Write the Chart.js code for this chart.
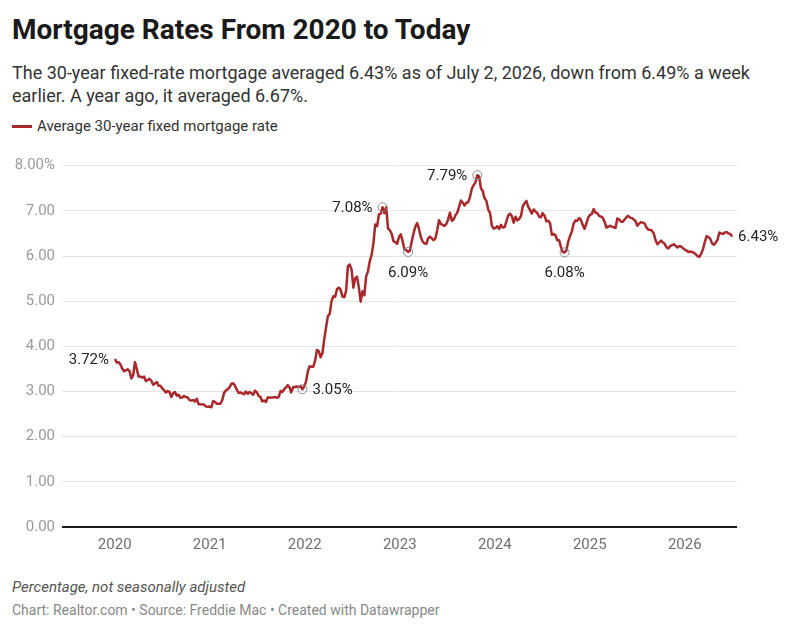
<!DOCTYPE html>
<html>
<head>
<meta charset="utf-8">
<script src="https://cdn.jsdelivr.net/npm/chart.js@4"></script>
<style>
  html, body { margin: 0; padding: 0; background: #fff; }
  body { width: 792px; height: 632px; position: relative; overflow: hidden; font-family: Roboto, sans-serif; }
  .abs { position: absolute; left: 12px; white-space: nowrap; }
  #title { top: 12px; font-size: 28px; line-height: 36px; font-weight: 700; color: #1a1a1a; }
  #subtitle { top: 61px; font-size: 18px; line-height: 23px; color: #333; white-space: normal; width: 770px; }
  #legend { top: 116px; font-size: 15px; line-height: 20px; color: #333; }
  #legend i { display: inline-block; width: 20px; height: 3px; background: #a8282b; vertical-align: middle; margin: -2px 5px 0 0; }
  #chart-box { position: absolute; left: 0; top: 140px; width: 792px; height: 430px; }
  #note { top: 577px; font-size: 15px; line-height: 20px; font-style: italic; color: #555; }
  #credit { top: 601px; font-size: 14px; line-height: 18px; color: #888; }
</style>
</head>
<body>
<div id="title" class="abs">Mortgage Rates From 2020 to Today</div>
<div id="subtitle" class="abs">The 30-year fixed-rate mortgage averaged 6.43% as of July 2, 2026, down from 6.49% a week earlier. A year ago, it averaged 6.67%.</div>
<div id="legend" class="abs"><i></i>Average 30-year fixed mortgage rate</div>
<div id="chart-box"><canvas id="rates-chart" width="792" height="430"></canvas></div>
<div id="note" class="abs">Percentage, not seasonally adjusted</div>
<div id="credit" class="abs">Chart: Realtor.com • Source: Freddie Mac • Created with Datawrapper</div>

<script>
// weekly survey dates (MM-DD) and 30-year fixed rates, one pair per year
var weeks2020 = ["01-02","01-09","01-16","01-23","01-30","02-06","02-13","02-20","02-27","03-05","03-12","03-19","03-26",
  "04-02","04-09","04-16","04-23","04-30","05-07","05-14","05-21","05-28","06-04","06-11","06-18","06-25",
  "07-02","07-09","07-16","07-23","07-30","08-06","08-13","08-20","08-27","09-03","09-10","09-17","09-24",
  "10-01","10-08","10-15","10-22","10-29","11-05","11-12","11-19","11-25","12-03","12-10","12-17","12-23","12-30"];
var rates2020 = [3.72,3.64,3.65,3.60,3.51,3.45,3.47,3.49,3.45,3.29,3.36,3.65,3.50,
  3.33,3.33,3.31,3.33,3.23,3.26,3.28,3.24,3.15,3.18,3.21,3.13,3.13,
  3.07,3.03,2.98,3.01,2.99,2.88,2.96,2.99,2.91,2.93,2.86,2.87,2.90,
  2.88,2.87,2.81,2.80,2.81,2.78,2.84,2.72,2.72,2.71,2.71,2.67,2.66,2.67];

var weeks2021 = ["01-07","01-14","01-21","01-28","02-04","02-11","02-18","02-25","03-04","03-11","03-18","03-25",
  "04-01","04-08","04-15","04-22","04-29","05-06","05-13","05-20","05-27","06-03","06-10","06-17","06-24",
  "07-01","07-08","07-15","07-22","07-29","08-05","08-12","08-19","08-26","09-02","09-09","09-16","09-23","09-30",
  "10-07","10-14","10-21","10-28","11-04","11-10","11-18","11-24","12-02","12-09","12-16","12-23","12-30"];
var rates2021 = [2.65,2.79,2.77,2.73,2.73,2.73,2.81,2.97,3.02,3.05,3.09,3.17,
  3.18,3.13,3.04,2.97,2.98,2.96,2.94,3.00,2.95,2.99,2.96,2.93,3.02,
  2.98,2.90,2.88,2.78,2.80,2.77,2.87,2.86,2.87,2.87,2.88,2.86,2.88,3.01,
  2.99,3.05,3.09,3.14,3.09,2.98,3.10,3.10,3.11,3.10,3.12,3.05,3.11];

var weeks2022 = ["01-06","01-13","01-20","01-27","02-03","02-10","02-17","02-24","03-03","03-10","03-17","03-24","03-31",
  "04-07","04-14","04-21","04-28","05-05","05-12","05-19","05-26","06-02","06-09","06-16","06-23","06-30",
  "07-07","07-14","07-21","07-28","08-04","08-11","08-18","08-25","09-01","09-08","09-15","09-22","09-29",
  "10-06","10-13","10-20","10-27","11-03","11-10","11-17","11-23","12-01","12-08","12-15","12-22","12-29"];
var rates2022 = [3.22,3.45,3.56,3.55,3.55,3.69,3.92,3.89,3.76,3.85,4.16,4.42,4.67,
  4.72,5.00,5.11,5.10,5.27,5.30,5.25,5.10,5.09,5.23,5.78,5.81,5.70,
  5.30,5.51,5.54,5.30,4.99,5.22,5.13,5.55,5.66,5.89,6.02,6.29,6.70,
  6.66,6.92,6.94,7.08,6.95,7.08,6.61,6.58,6.49,6.33,6.31,6.27,6.42];

var weeks2023 = ["01-05","01-12","01-19","01-26","02-02","02-09","02-16","02-23","03-02","03-09","03-16","03-23","03-30",
  "04-06","04-13","04-20","04-27","05-04","05-11","05-18","05-25","06-01","06-08","06-15","06-22","06-29",
  "07-06","07-13","07-20","07-27","08-03","08-10","08-17","08-24","08-31","09-07","09-14","09-21","09-28",
  "10-05","10-12","10-19","10-26","11-02","11-09","11-16","11-22","11-30","12-07","12-14","12-21","12-28"];
var rates2023 = [6.48,6.33,6.15,6.13,6.09,6.12,6.32,6.50,6.65,6.73,6.60,6.42,6.32,
  6.28,6.27,6.39,6.43,6.39,6.35,6.39,6.57,6.79,6.71,6.69,6.67,6.71,
  6.81,6.96,6.78,6.81,6.90,6.96,7.09,7.23,7.18,7.12,7.18,7.19,7.31,
  7.49,7.57,7.63,7.79,7.76,7.50,7.44,7.29,7.22,7.03,6.95,6.67,6.61];

var weeks2024 = ["01-04","01-11","01-18","01-25","02-01","02-08","02-15","02-22","02-29","03-07","03-14","03-21","03-28",
  "04-04","04-11","04-18","04-25","05-02","05-09","05-16","05-23","05-30","06-06","06-13","06-20","06-27",
  "07-03","07-11","07-18","07-25","08-01","08-08","08-15","08-22","08-29","09-05","09-12","09-19","09-26",
  "10-03","10-10","10-17","10-24","10-31","11-07","11-14","11-21","11-27","12-05","12-12","12-19","12-26"];
var rates2024 = [6.62,6.66,6.60,6.69,6.63,6.64,6.77,6.90,6.94,6.88,6.74,6.87,6.79,
  6.82,6.88,7.10,7.17,7.22,7.09,7.02,6.94,7.03,6.99,6.95,6.87,6.86,
  6.95,6.89,6.77,6.78,6.73,6.47,6.49,6.46,6.35,6.35,6.20,6.09,6.08,
  6.12,6.32,6.44,6.54,6.72,6.79,6.78,6.84,6.81,6.69,6.60,6.72,6.85];

var weeks2025 = ["01-02","01-09","01-16","01-23","01-30","02-06","02-13","02-20","02-27","03-06","03-13","03-20","03-27",
  "04-03","04-10","04-17","04-24","05-01","05-08","05-15","05-22","05-29","06-05","06-12","06-19","06-26",
  "07-03","07-10","07-17","07-24","07-31","08-07","08-14","08-21","08-28","09-04","09-11","09-18","09-25",
  "10-02","10-09","10-16","10-23","10-30","11-06","11-13","11-20","11-26","12-04","12-11","12-18","12-24","12-31"];
var rates2025 = [6.91,6.93,7.04,6.96,6.95,6.89,6.87,6.85,6.76,6.63,6.65,6.67,6.65,
  6.64,6.62,6.83,6.81,6.76,6.76,6.81,6.86,6.89,6.85,6.84,6.81,6.77,
  6.67,6.72,6.75,6.74,6.72,6.63,6.58,6.58,6.56,6.50,6.35,6.26,6.30,
  6.34,6.30,6.27,6.19,6.17,6.22,6.24,6.26,6.23,6.19,6.22,6.21,6.18,6.15];

var weeks2026 = ["01-08","01-15","01-22","01-29","02-05","02-12","02-19","02-26","03-05","03-12","03-19","03-26",
  "04-02","04-09","04-16","04-23","04-30","05-07","05-14","05-21","05-28","06-04","06-11","06-18","06-25","07-02"];
var rates2026 = [6.12,6.09,6.10,6.09,6.07,6.04,6.00,5.98,6.05,6.15,6.31,6.44,
  6.42,6.38,6.28,6.25,6.30,6.36,6.52,6.50,6.49,6.52,6.53,6.50,6.49,6.43];

// x axis
var yearTicks = [2020, 2021, 2022, 2023, 2024, 2025, 2026];
var xMin = 2019.445;
var xMax = 2026.55;

// y axis
var yTickValues = [0, 1, 2, 3, 4, 5, 6, 7, 8];
var yTickLabels = ["0.00", "1.00", "2.00", "3.00", "4.00", "5.00", "6.00", "7.00", "8.00%"];

// annotated readings
var noteDates = ["2020-01-02", "2021-12-23", "2022-10-27", "2023-02-02", "2023-10-26", "2024-09-26", "2026-07-02"];
var noteValues = [3.72, 3.05, 7.08, 6.09, 7.79, 6.08, 6.43];
var noteTexts = ["3.72%", "3.05%", "7.08%", "6.09%", "7.79%", "6.08%", "6.43%"];
var noteSides = ["left", "right", "left", "below", "left", "below", "right"];
var noteCircled = [false, true, true, true, true, true, false];

(function () {
  var LINE_COLOR = "#a8282b";

  function toYear(iso) {
    var p = iso.split("-");
    var y = +p[0];
    var start = Date.UTC(y, 0, 1);
    var end = Date.UTC(y + 1, 0, 1);
    return y + (Date.UTC(y, +p[1] - 1, +p[2]) - start) / (end - start);
  }

  function buildSeries() {
    var years = [
      [2020, weeks2020, rates2020], [2021, weeks2021, rates2021], [2022, weeks2022, rates2022],
      [2023, weeks2023, rates2023], [2024, weeks2024, rates2024], [2025, weeks2025, rates2025],
      [2026, weeks2026, rates2026]
    ];
    var pts = [];
    years.forEach(function (row) {
      row[1].forEach(function (md, i) {
        pts.push({ x: toYear(row[0] + "-" + md), y: row[2][i] });
      });
    });
    return pts;
  }

  var markerPoints = [];
  noteDates.forEach(function (d, i) {
    if (noteCircled[i]) markerPoints.push({ x: toYear(d), y: noteValues[i] });
  });

  var notesPlugin = {
    id: "notes",
    afterDatasetsDraw: function (chart) {
      var ctx = chart.ctx;
      var xs = chart.scales.x, ys = chart.scales.y;
      ctx.save();
      ctx.font = "15px Roboto";
      ctx.fillStyle = "#222";
      noteDates.forEach(function (d, i) {
        var px = xs.getPixelForValue(toYear(d));
        var py = ys.getPixelForValue(noteValues[i]);
        var gap = noteCircled[i] ? 10 : 6;
        var side = noteSides[i];
        if (side === "left") {
          ctx.textAlign = "right"; ctx.textBaseline = "middle";
          ctx.fillText(noteTexts[i], px - gap, py + 1);
        } else if (side === "right") {
          ctx.textAlign = "left"; ctx.textBaseline = "middle";
          ctx.fillText(noteTexts[i], px + gap, py + 1);
        } else {
          ctx.textAlign = "center"; ctx.textBaseline = "middle";
          ctx.fillText(noteTexts[i], px, py + 21);
        }
      });
      ctx.restore();
    }
  };

  Chart.defaults.font.family = "Roboto";

  new Chart(document.getElementById("rates-chart"), {
    type: "line",
    data: {
      datasets: [
        {
          label: "markers",
          type: "scatter",
          data: markerPoints,
          order: 0,
          showLine: false,
          pointRadius: 4.5,
          pointBorderWidth: 1,
          pointBorderColor: "#8a8a8a",
          pointBackgroundColor: "rgba(255,255,255,0)"
        },
        {
          label: "Average 30-year fixed mortgage rate",
          data: buildSeries(),
          order: 1,
          borderColor: LINE_COLOR,
          borderWidth: 2.5,
          pointRadius: 0,
          tension: 0,
          borderJoinStyle: "round",
          fill: false
        }
      ]
    },
    options: {
      responsive: false,
      animation: false,
      events: [],
      layout: { padding: { top: 25.7, right: 55, left: 0, bottom: 0 } },
      plugins: {
        legend: { display: false },
        tooltip: { enabled: false }
      },
      scales: {
        x: {
          type: "linear",
          min: xMin,
          max: xMax,
          afterBuildTicks: function (scale) {
            scale.ticks = yearTicks.map(function (v) { return { value: v }; });
          },
          afterFit: function (scale) { scale.height = 43; },
          grid: { display: false, drawTicks: false },
          border: { display: false },
          ticks: {
            padding: 9,
            maxRotation: 0,
            autoSkip: false,
            color: "#6f6f6f",
            font: { size: 15 },
            callback: function (v) { return String(v); }
          }
        },
        y: {
          min: 0,
          max: 8,
          afterBuildTicks: function (scale) {
            scale.ticks = yTickValues.map(function (v) { return { value: v }; });
          },
          afterFit: function (scale) { scale.width = 62; },
          grid: {
            drawTicks: false,
            color: function (c) { return c.tick && c.tick.value === 0 ? "#1a1a1a" : "#e4e4e4"; },
            lineWidth: function (c) { return c.tick && c.tick.value === 0 ? 2 : 1; }
          },
          border: { display: false },
          ticks: {
            padding: 7,
            color: "#9a9a9a",
            font: { size: 15 },
            callback: function (v) { return yTickLabels[yTickValues.indexOf(v)]; }
          }
        }
      }
    },
    plugins: [notesPlugin]
  });
})();
</script>
</body>
</html>
